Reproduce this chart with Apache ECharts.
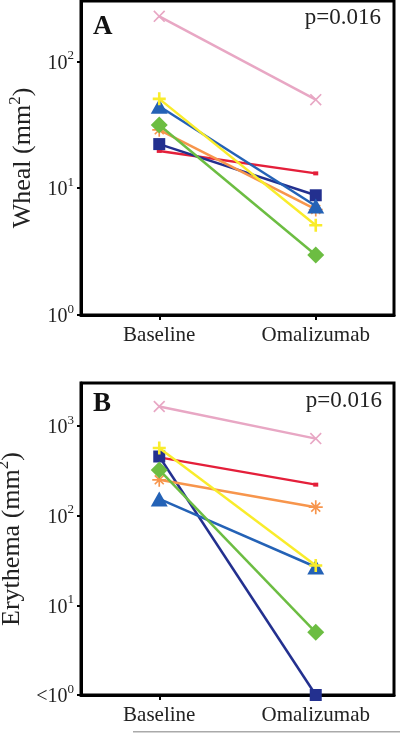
<!DOCTYPE html>
<html><head><meta charset="utf-8">
<script src="https://cdn.jsdelivr.net/npm/echarts@6/dist/echarts.min.js"></script>
<style>html,body{margin:0;padding:0;background:#fff}#c{width:400px;height:733px}</style>
</head><body><div id="c"></div>
<script>
// ---- data ----
const categories = ['Baseline', 'Omalizumab'];
const patientNames = ['Red', 'Navy', 'Orange', 'Blue', 'Green', 'Yellow', 'Pink'];

// Panel A: Wheal (mm^2)  [Baseline, Omalizumab]
const whealRed    = [19.7, 13.1];
const whealNavy   = [22.3, 8.8];
const whealOrange = [28.9, 6.8];
const whealBlue   = [44.3, 7.25];
const whealGreen  = [31.5, 2.97];
const whealYellow = [50.7, 5.1];
const whealPink   = [227, 50];

// Panel B: Erythema (mm^2)  (1 = "<10^0")
const eryRed    = [445, 221];
const eryNavy   = [455, 1];
const eryOrange = [250, 124];
const eryBlue   = [153, 26.7];
const eryGreen  = [322, 5];
const eryYellow = [565, 27.8];
const eryPink   = [1640, 720];

const whealTicks = [1, 10, 100];
const eryTicks = [1, 10, 100, 1000];
const pText = 'p=0.016';

// ---- styles ----
const FONT = "'Liberation Serif','Times New Roman',serif";
const PLUS = 'path://M4,0H6V4H10V6H6V10H4V6H0V4H4Z';
const CROSS = 'path://M0,1L1,0L5,4L9,0L10,1L6,5L10,9L9,10L5,6L1,10L0,9L4,5Z';
const STAR = 'path://M4.4,0H5.6V4.4H10V5.6H5.6V10H4.4V5.6H0V4.4H4.4Z' +
  'M1.4,2.2L2.2,1.4L5,4.2L7.8,1.4L8.6,2.2L5.8,5L8.6,7.8L7.8,8.6L5,5.8L2.2,8.6L1.4,7.8L4.2,5Z';
const styles = {
  Red:    { color: '#e41f3a', symbol: 'rect', size: [5, 4] },
  Navy:   { color: '#23308f', symbol: 'rect', size: 12 },
  Orange: { color: '#f7954c', symbol: STAR, size: 14 },
  Blue:   { color: '#2462b6', symbol: 'triangle', size: [17, 15] },
  Green:  { color: '#6cbd42', symbol: 'diamond', size: 17 },
  Yellow: { color: '#f9ec2b', symbol: PLUS, size: 13 },
  Pink:   { color: '#e8a7c4', symbol: CROSS, size: 12 }
};
const whealData = { Red: whealRed, Navy: whealNavy, Orange: whealOrange, Blue: whealBlue, Green: whealGreen, Yellow: whealYellow, Pink: whealPink };
const eryData = { Red: eryRed, Navy: eryNavy, Orange: eryOrange, Blue: eryBlue, Green: eryGreen, Yellow: eryYellow, Pink: eryPink };

const series = [];
[whealData, eryData].forEach((set, gi) => {
  patientNames.forEach((n, i) => {
    const s = styles[n];
    series.push({
      type: 'line', name: n, xAxisIndex: gi, yAxisIndex: gi,
      data: set[n], symbol: s.symbol, symbolSize: s.size, showAllSymbol: true,
      lineStyle: { color: s.color, width: 2.5 },
      itemStyle: { color: s.color },
      z: 2 + i, animation: false, silent: true
    });
  });
});

function xAxis(gi) {
  return {
    type: 'category', gridIndex: gi, data: categories, boundaryGap: true,
    axisLine: { show: true, lineStyle: { color: '#000', width: 3 } },
    axisTick: { show: true, alignWithLabel: true, length: 5, lineStyle: { color: '#000', width: 2 } },
    axisLabel: { fontFamily: FONT, fontSize: 21, color: '#222', margin: 10 },
    splitLine: { show: false }
  };
}
function yAxis(gi, max, ticks, title, lessThan) {
  return {
    type: 'log', logBase: 10, gridIndex: gi, min: 1, max: max,
    axisLine: { show: true, lineStyle: { color: '#000', width: 3 } },
    axisTick: { show: true, length: 4, lineStyle: { color: '#000', width: 2 }, customValues: ticks },
    axisLabel: {
      customValues: ticks, margin: 7, color: '#222',
      formatter: v => {
        const e = Math.round(Math.log10(v));
        return '{b|' + (lessThan && e === 0 ? '<10' : '10') + '}{s|' + e + '}';
      },
      rich: {
        b: { fontFamily: FONT, fontSize: 20, color: '#222', lineHeight: 24, verticalAlign: 'bottom' },
        s: { fontFamily: FONT, fontSize: 13, color: '#222', lineHeight: 24, verticalAlign: 'top' }
      }
    },
    splitLine: { show: false },
    name: '{a|' + title + ' (mm}{s|2}{a|)}', nameLocation: 'middle', nameRotate: 90, nameGap: 43,
    nameTextStyle: {
      rich: {
        a: { fontFamily: FONT, fontSize: 26, color: '#222', lineHeight: 30, verticalAlign: 'bottom' },
        s: { fontFamily: FONT, fontSize: 17, color: '#222', lineHeight: 30, verticalAlign: 'top' }
      }
    }
  };
}

const chart = echarts.init(document.getElementById('c'), null, { renderer: 'canvas' });
chart.setOption({
  animation: false,
  backgroundColor: '#fff',
  grid: [
    { left: 81, right: 6, top: 1, height: 314, show: true, borderColor: '#000', borderWidth: 3, containLabel: false, outerBoundsMode: 'none' },
    { left: 81, right: 6, top: 383, height: 312, show: true, borderColor: '#000', borderWidth: 3, containLabel: false, outerBoundsMode: 'none' }
  ],
  xAxis: [xAxis(0), xAxis(1)],
  yAxis: [yAxis(0, 300, whealTicks, 'Wheal', false), yAxis(1, 3000, eryTicks, 'Erythema', true)],
  series: series,
  graphic: [
    { type: 'text', left: 93, top: 14, style: { text: 'A', font: "bold 27px " + FONT, fill: '#111' } },
    { type: 'text', right: 19, top: 6, style: { text: pText, font: "23px " + FONT, fill: '#222' } },
    { type: 'text', left: 93, top: 391, style: { text: 'B', font: "bold 27px " + FONT, fill: '#111' } },
    { type: 'text', right: 18, top: 389, style: { text: pText, font: "23px " + FONT, fill: '#222' } },
    { type: 'rect', shape: { x: 133, y: 731, width: 267, height: 1.5 }, style: { fill: '#aaa' } }
  ]
});
</script>
</body></html>
